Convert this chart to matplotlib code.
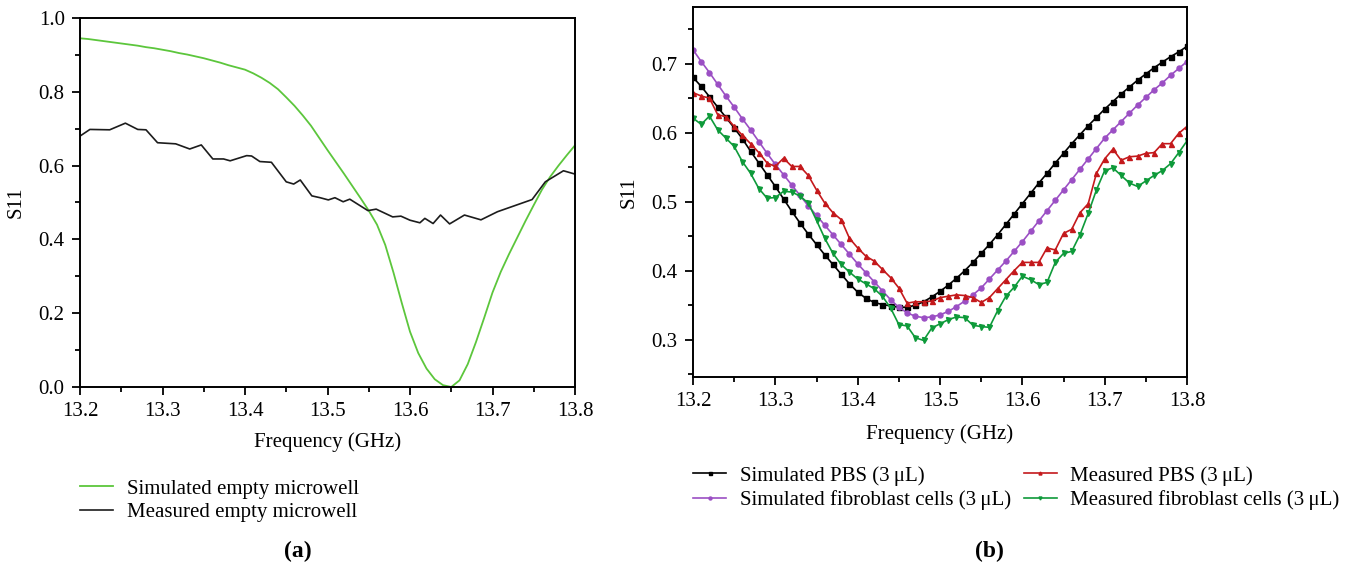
import numpy as np
import matplotlib
matplotlib.use("Agg")
import matplotlib.pyplot as plt
from matplotlib.ticker import MultipleLocator, FormatStrFormatter

plt.rcParams["font.family"] = ["Liberation Serif", "DejaVu Serif"]
plt.rcParams["mathtext.fontset"] = "stix"

# ---- panel (a): empty microwell ----
freq = np.round(np.arange(13.20, 13.805, 0.01), 2)  # 61 points, 10 MHz step

sim_empty = [0.945, 0.943, 0.940, 0.937, 0.934, 0.931, 0.928, 0.925, 0.921, 0.918,
             0.914, 0.910, 0.905, 0.901, 0.896, 0.891, 0.885, 0.879, 0.872, 0.866,
             0.860, 0.850, 0.838, 0.824, 0.807, 0.785, 0.762, 0.736, 0.708, 0.675,
             0.642, 0.610, 0.578, 0.545, 0.512, 0.478, 0.440, 0.385, 0.310, 0.228,
             0.150, 0.092, 0.050, 0.021, 0.005, 0.000, 0.018, 0.062, 0.122, 0.188,
             0.256, 0.312, 0.360, 0.405, 0.450, 0.493, 0.535, 0.570, 0.600, 0.628,
             0.655]

meas_empty_x = [13.200, 13.212, 13.236, 13.255, 13.270, 13.280, 13.294, 13.316, 13.333,
                13.347, 13.361, 13.374, 13.382, 13.402, 13.408, 13.418, 13.432, 13.450,
                13.459, 13.467, 13.481, 13.491, 13.501, 13.509, 13.519, 13.527, 13.549,
                13.559, 13.579, 13.589, 13.600, 13.612, 13.618, 13.628, 13.637, 13.648,
                13.666, 13.686, 13.706, 13.748, 13.764, 13.786, 13.800]
meas_empty = [0.680, 0.698, 0.697, 0.715, 0.698, 0.697, 0.662, 0.659, 0.645, 0.656,
              0.618, 0.618, 0.613, 0.627, 0.626, 0.611, 0.609, 0.556, 0.550, 0.561,
              0.518, 0.513, 0.507, 0.513, 0.502, 0.509, 0.478, 0.482, 0.461, 0.463,
              0.452, 0.445, 0.457, 0.443, 0.466, 0.442, 0.466, 0.453, 0.475, 0.508,
              0.556, 0.586, 0.577]

# ---- panel (b): PBS vs fibroblast cells ----
sim_pbs = [0.680, 0.667, 0.652, 0.637, 0.622, 0.607, 0.591, 0.573, 0.556, 0.539,
           0.522, 0.504, 0.486, 0.469, 0.453, 0.438, 0.423, 0.409, 0.395, 0.381,
           0.369, 0.360, 0.354, 0.351, 0.349, 0.347, 0.347, 0.350, 0.355, 0.362,
           0.370, 0.379, 0.389, 0.400, 0.412, 0.425, 0.438, 0.452, 0.467, 0.482,
           0.497, 0.512, 0.527, 0.541, 0.556, 0.570, 0.584, 0.597, 0.610, 0.622,
           0.634, 0.645, 0.656, 0.666, 0.676, 0.685, 0.694, 0.702, 0.710, 0.717,
           0.725]

sim_fibro = [0.720, 0.703, 0.687, 0.670, 0.653, 0.637, 0.620, 0.604, 0.587, 0.570,
             0.554, 0.539, 0.524, 0.509, 0.494, 0.480, 0.466, 0.452, 0.438, 0.424,
             0.410, 0.397, 0.384, 0.371, 0.358, 0.347, 0.339, 0.334, 0.332, 0.333,
             0.336, 0.341, 0.348, 0.356, 0.365, 0.375, 0.388, 0.401, 0.414, 0.428,
             0.442, 0.457, 0.472, 0.487, 0.502, 0.517, 0.532, 0.547, 0.562, 0.577,
             0.592, 0.604, 0.616, 0.628, 0.640, 0.651, 0.662, 0.672, 0.683, 0.693,
             0.703]

meas_pbs = [0.658, 0.653, 0.650, 0.626, 0.623, 0.609, 0.596, 0.584, 0.571, 0.556,
            0.551, 0.563, 0.551, 0.551, 0.538, 0.517, 0.498, 0.484, 0.474, 0.447,
            0.433, 0.421, 0.414, 0.402, 0.390, 0.375, 0.353, 0.355, 0.355, 0.356,
            0.361, 0.363, 0.365, 0.364, 0.361, 0.354, 0.361, 0.374, 0.387, 0.400,
            0.412, 0.412, 0.412, 0.433, 0.430, 0.454, 0.460, 0.484, 0.497, 0.541,
            0.562, 0.576, 0.560, 0.565, 0.566, 0.570, 0.571, 0.584, 0.584, 0.599,
            0.609]

meas_fibro = [0.621, 0.612, 0.624, 0.604, 0.592, 0.580, 0.558, 0.541, 0.519, 0.505,
              0.506, 0.515, 0.514, 0.508, 0.498, 0.473, 0.447, 0.425, 0.409, 0.398,
              0.388, 0.381, 0.374, 0.363, 0.346, 0.322, 0.320, 0.303, 0.299, 0.317,
              0.323, 0.329, 0.333, 0.332, 0.321, 0.319, 0.318, 0.342, 0.363, 0.376,
              0.392, 0.387, 0.380, 0.383, 0.412, 0.425, 0.428, 0.452, 0.483, 0.517,
              0.545, 0.549, 0.538, 0.527, 0.522, 0.530, 0.538, 0.545, 0.555, 0.571,
              0.588]

FS = 15
W, H = 1354, 567
fig = plt.figure(figsize=(W / 100, H / 100), dpi=100)

def box(x0, y0, x1, y1):
    # pixel box (top-left origin) -> figure fraction rect
    return [x0 / W, 1 - y1 / H, (x1 - x0) / W, (y1 - y0) / H]

def style(ax):
    for s in ax.spines.values():
        s.set_linewidth(1.4)
    ax.tick_params(which="both", direction="out", top=False, right=False,
                   labelsize=FS, width=1.3, pad=5)
    ax.tick_params(which="major", length=6)
    ax.tick_params(which="minor", length=3.5)
    ax.xaxis.set_major_locator(MultipleLocator(0.1))
    ax.xaxis.set_minor_locator(MultipleLocator(0.05))
    ax.xaxis.set_major_formatter(FormatStrFormatter("%.1f"))
    ax.yaxis.set_major_formatter(FormatStrFormatter("%.1f"))
    ax.set_xlim(13.2, 13.8)

# (a)
axa = fig.add_axes(box(80, 18, 575, 387))
style(axa)
la1, = axa.plot(freq, sim_empty, color="#5cc63c", lw=1.3, label="Simulated empty microwell")
la2, = axa.plot(meas_empty_x, meas_empty, color="#1c1c1c", lw=1.2, label="Measured empty microwell")
axa.set_ylim(0, 1.0)
axa.yaxis.set_major_locator(MultipleLocator(0.2))
axa.yaxis.set_minor_locator(MultipleLocator(0.1))
axa.set_xlabel("Frequency (GHz)", fontsize=FS, labelpad=8)
axa.set_ylabel("S11", fontsize=FS, labelpad=9)
fig.legend(handles=[la1, la2], loc="upper left", bbox_to_anchor=(80 / W, 1 - 479 / H),
           frameon=False, fontsize=FS, handlelength=1.6, handletextpad=0.65,
           borderpad=0, borderaxespad=0, labelspacing=0.2)

# (b)
axb = fig.add_axes(box(693, 7, 1187, 377))
style(axb)
ms = 3.6
lb1, = axb.plot(freq, sim_pbs, color="black", lw=1.2, marker="s", ms=ms,
                label="Simulated PBS (3\u2009μL)")
lb2, = axb.plot(freq, sim_fibro, color="#9b4fc4", lw=1.2, marker="o", ms=ms,
                label="Simulated fibroblast cells (3\u2009μL)")
lb3, = axb.plot(freq, meas_pbs, color="#c4191c", lw=1.2, marker="^", ms=ms,
                label="Measured PBS (3\u2009μL)")
lb4, = axb.plot(freq, meas_fibro, color="#0e9a3a", lw=1.2, marker="v", ms=ms,
                label="Measured fibroblast cells (3\u2009μL)")
axb.set_ylim(0.246, 0.782)
axb.yaxis.set_major_locator(MultipleLocator(0.1))
axb.yaxis.set_minor_locator(MultipleLocator(0.05))
axb.set_xlabel("Frequency (GHz)", fontsize=FS, labelpad=9)
axb.set_ylabel("S11", fontsize=FS, labelpad=9)
fig.legend(handles=[lb1, lb2, lb3, lb4], loc="upper left", ncol=2,
           bbox_to_anchor=(693 / W, 1 - 466 / H), frameon=False, fontsize=FS,
           handlelength=1.6, handletextpad=0.65, borderpad=0, borderaxespad=0,
           labelspacing=0.2, columnspacing=0.6, markerscale=0.6)

fig.text(298 / W, 1 - 551 / H, "(a)", ha="center", va="center", fontsize=17, fontweight="bold")
fig.text(989 / W, 1 - 551 / H, "(b)", ha="center", va="center", fontsize=17, fontweight="bold")

fig.savefig("out.png", dpi=100)
